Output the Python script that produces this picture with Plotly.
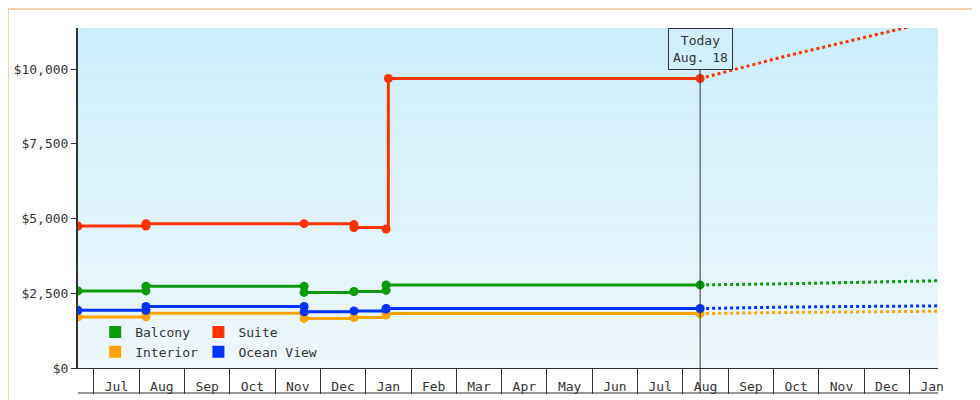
import plotly.graph_objects as go

# x is measured in months, 0 = start of Jul (first year)
MONTHS = ["Jul", "Aug", "Sep", "Oct", "Nov", "Dec", "Jan", "Feb", "Mar", "Apr",
          "May", "Jun", "Jul", "Aug", "Sep", "Oct", "Nov", "Dec", "Jan"]
TODAY = 13.38

SERIES = ["Balcony", "Suite", "Interior", "Ocean View"]
COLORS = {"Balcony": "#0a9a0a", "Suite": "#ff3300", "Interior": "#ffa500", "Ocean View": "#0033ff"}

HIST_X = {
    "Suite": [-0.35, 1.15, 1.15, 4.64, 5.74, 5.74, 6.45, 6.5, 13.38],
    "Balcony": [-0.35, 1.15, 1.15, 4.64, 4.64, 5.74, 6.45, 6.45, 13.38],
    "Ocean View": [-0.35, 1.15, 1.15, 4.64, 4.64, 5.74, 6.45, 6.45, 13.38],
    "Interior": [-0.35, 1.15, 1.15, 4.64, 4.64, 5.74, 6.45, 6.45, 13.38],
}
HIST_Y = {
    "Suite": [4750, 4750, 4830, 4830, 4800, 4700, 4650, 9690, 9690],
    "Balcony": [2580, 2580, 2740, 2740, 2530, 2560, 2600, 2780, 2780],
    "Ocean View": [1930, 1930, 2060, 2060, 1880, 1910, 1970, 1990, 1990],
    "Interior": [1710, 1710, 1830, 1830, 1660, 1690, 1770, 1820, 1820],
}
FC_X = [13.38, 15.3, 18.63]
FC_Y = {
    "Suite": [9690, 10450, 11650],
    "Balcony": [2780, 2820, 2920],
    "Ocean View": [1990, 2040, 2080],
    "Interior": [1820, 1860, 1900],
}

fig = go.Figure()

# gradient background
N = 40
for i in range(N):
    t = i / (N - 1)
    r = int(0xee + (0xcc - 0xee) * t)
    g = int(0xf8 + (0xee - 0xf8) * t)
    b = int(0xfd + (0xfb - 0xfd) * t)
    fig.add_shape(type="rect", xref="paper", yref="paper", x0=0, x1=1,
                  y0=i / N, y1=(i + 1) / N, fillcolor=f"rgb({r},{g},{b})",
                  line_width=0, layer="below")

fig.add_shape(type="line", x0=TODAY, x1=TODAY, yref="paper", y0=-0.0735, y1=1,
              line=dict(color="#333", width=1))

for name in SERIES:
    c = COLORS[name]
    fig.add_trace(go.Scatter(x=HIST_X[name], y=HIST_Y[name], mode="lines+markers",
                             line=dict(color=c, width=3, shape="hv"),
                             marker=dict(color=c, size=9, symbol="circle"),
                             showlegend=False, hoverinfo="skip"))
    fig.add_trace(go.Scatter(x=FC_X, y=FC_Y[name], mode="lines",
                             line=dict(color=c, width=3, dash="dot"),
                             showlegend=False, hoverinfo="skip"))

for name, leg in zip(SERIES, ["legend", "legend2", "legend", "legend2"]):
    fig.add_trace(go.Scatter(x=[None], y=[None], mode="markers", name=name,
                             marker=dict(color=COLORS[name], size=12, symbol="square"),
                             legend=leg))

fig.add_annotation(x=TODAY, y=1, yref="paper", yanchor="top", text="Today<br>Aug. 18",
                   showarrow=False, bgcolor="#d2effc", bordercolor="#333", borderwidth=1,
                   borderpad=4, font=dict(size=13, color="#333"))

fig.add_shape(type="line", xref="paper", yref="paper", x0=0, x1=1, y0=-0.0735, y1=-0.0735,
              line=dict(color="#333", width=1))
fig.add_shape(type="rect", xref="paper", yref="paper", x0=-70 / 860, x1=1 + 49 / 860,
              y0=-39 / 340, y1=1 + 19 / 340, line=dict(color="#e8a060", width=1))

fig.update_xaxes(range=[-0.35, 18.63], tickvals=[i + 0.5 for i in range(len(MONTHS))],
                 ticktext=MONTHS, ticks="", showgrid=False, zeroline=False,
                 showline=True, linecolor="#333", ticklabelstandoff=6, automargin=False,
                 minor=dict(tickvals=list(range(len(MONTHS) + 1)), ticks="outside",
                            ticklen=25, tickcolor="#333", showgrid=False))
fig.update_yaxes(range=[0, 11380], tickvals=[0, 2500, 5000, 7500, 10000],
                 ticktext=["$0", "$2,500", "$5,000", "$7,500", "$10,000"],
                 ticks="outside", ticklen=5, tickcolor="#333", showgrid=False,
                 zeroline=False, showline=True, linecolor="#333", linewidth=2,
                 automargin=False)

fig.update_layout(
    width=980, height=400,
    margin=dict(l=70, r=50, t=20, b=40, autoexpand=False),
    paper_bgcolor="white", plot_bgcolor="#eef8fd",
    font=dict(family="DejaVu Sans Mono", size=13, color="#333"),
    legend=dict(x=0.02, y=0.15, xanchor="left", yanchor="top", bgcolor="rgba(0,0,0,0)",
                tracegroupgap=0, itemsizing="constant", itemwidth=30),
    legend2=dict(x=0.14, y=0.15, xanchor="left", yanchor="top", bgcolor="rgba(0,0,0,0)",
                 tracegroupgap=0, itemsizing="constant", itemwidth=30),
)

fig.write_html("out.html")
